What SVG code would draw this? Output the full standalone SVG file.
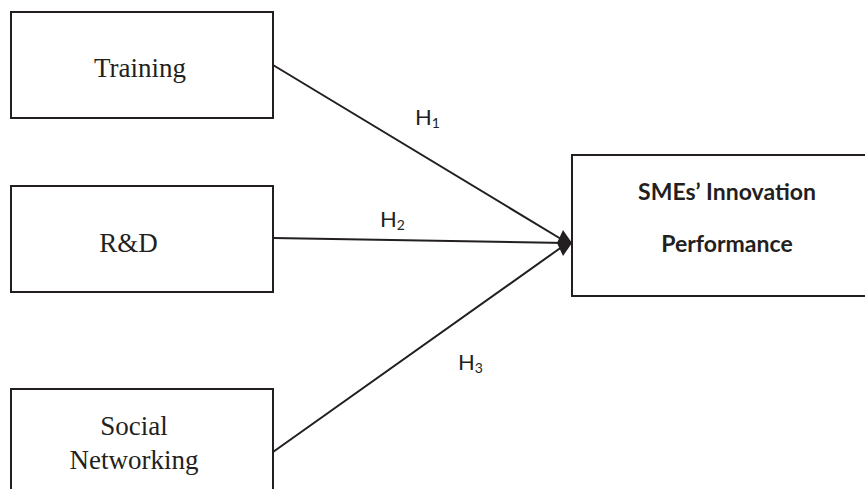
<svg xmlns="http://www.w3.org/2000/svg" width="865" height="489" viewBox="0 0 865 489">
<style>
.box{fill:#fff;stroke:#231f20;stroke-width:2}
.lbl{font-family:"Liberation Serif","Times New Roman",serif;font-size:27px;fill:#231f20;text-anchor:middle}
.sme{font-family:Lato,"Liberation Sans",sans-serif;font-weight:bold;font-size:23px;fill:#231f20;text-anchor:middle}
.h{font-family:Lato,"Liberation Sans",sans-serif;font-size:22px;fill:#231f20}
.sub{font-size:14px}
.con{stroke:#231f20;stroke-width:2;fill:none}
</style>
<rect width="865" height="489" fill="#fff"/>
<g id="connectors">
<line class="con" x1="273" y1="65" x2="566" y2="242"/>
<line class="con" x1="273" y1="238" x2="566" y2="243"/>
<line class="con" x1="273" y1="452" x2="566" y2="244"/>
<polygon points="572,243 563,230 557,243 563,256" fill="#231f20"/>
<text class="h" x="415" y="125">H<tspan class="sub" dy="3">1</tspan></text>
<text class="h" x="380" y="227">H<tspan class="sub" dy="3">2</tspan></text>
<text class="h" x="458" y="370">H<tspan class="sub" dy="3">3</tspan></text>
</g>
<g id="training">
<rect class="box" x="11" y="12" width="262" height="106"/>
<text class="lbl" x="140" y="77">Training</text>
</g>
<g id="rd">
<rect class="box" x="11" y="186" width="262" height="106"/>
<text class="lbl" x="128.5" y="252">R&amp;D</text>
</g>
<g id="social">
<path class="box" d="M11,495 V389 H273 V495"/>
<text class="lbl" x="134" y="435">Social</text>
<text class="lbl" x="134" y="469">Networking</text>
</g>
<g id="sme">
<path class="box" d="M870,155 H572 V296 H870"/>
<text class="sme" x="727" y="200">SMEs’ Innovation</text>
<text class="sme" x="727" y="252">Performance</text>
</g>
</svg>
